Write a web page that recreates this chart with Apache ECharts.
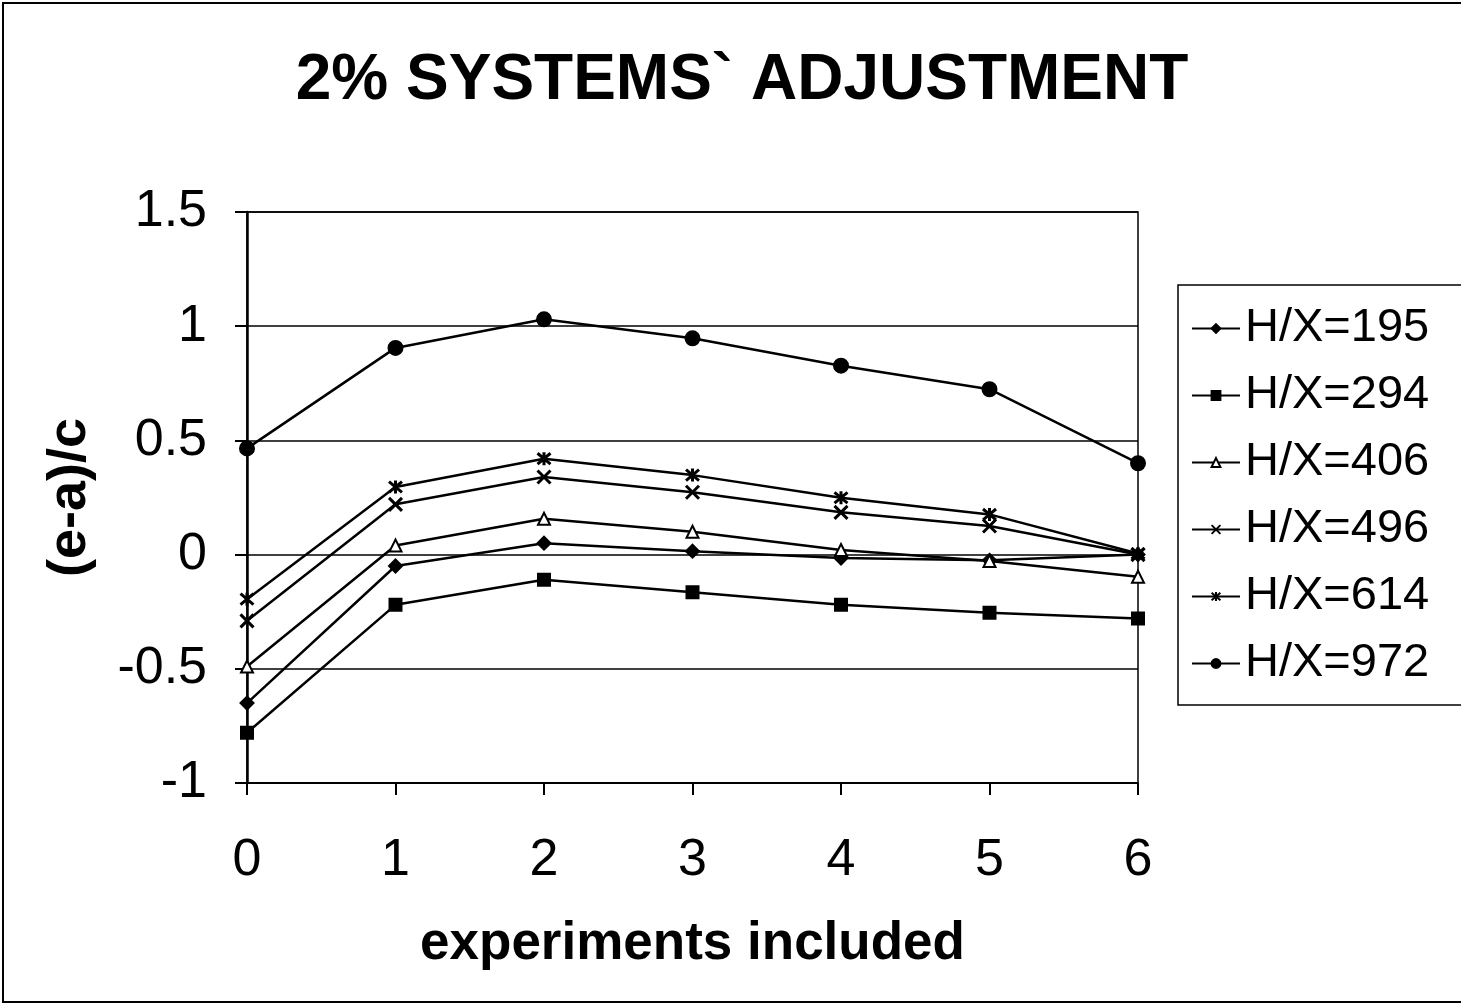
<!DOCTYPE html>
<html><head><meta charset="utf-8">
<script src="https://cdn.jsdelivr.net/npm/echarts@6/dist/echarts.min.js"></script>
<style>html,body{margin:0;padding:0;background:#fff}#c{width:1461px;height:1005px}</style>
</head><body><div id="c"></div>
<script>
const xValues = [0, 1, 2, 3, 4, 5, 6];
const seriesNames = ['H/X=195', 'H/X=294', 'H/X=406', 'H/X=496', 'H/X=614', 'H/X=972'];
const hx195 = [-0.65, -0.05, 0.05, 0.015, -0.015, -0.025, 0.0];
const hx294 = [-0.78, -0.22, -0.11, -0.165, -0.22, -0.255, -0.28];
const hx406 = [-0.49, 0.04, 0.157, 0.10, 0.02, -0.028, -0.097];
const hx496 = [-0.29, 0.22, 0.34, 0.273, 0.185, 0.125, 0.0];
const hx614 = [-0.195, 0.296, 0.42, 0.348, 0.249, 0.176, 0.005];
const hx972 = [0.465, 0.905, 1.03, 0.947, 0.827, 0.724, 0.40];
const yTicks = [-1, -0.5, 0, 0.5, 1, 1.5];

const symbols = ['diamond', 'rect', 'triangle',
  'path://M0,0L10,10M10,0L0,10',
  'path://M0,0L10,10M10,0L0,10M5,-1L5,11',
  'circle'];
const sizes = [13, 12, 12, 13, 13, 14];
const fills = ['#000', '#000', '#fff', '#000', '#000', '#000'];
const allData = [hx195, hx294, hx406, hx496, hx614, hx972];

const chart = echarts.init(document.getElementById('c'));
const font = 'Arial, "Liberation Sans", sans-serif';
chart.setOption({
  animation: false,
  backgroundColor: '#fff',
  title: {
    text: "2% SYSTEMS` ADJUSTMENT",
    left: 737, top: 44, textAlign: 'center',
    textStyle: {fontFamily: font, fontWeight: 'bold', fontSize: 64, color: '#000'}
  },
  graphic: [{type: 'rect', shape: {x: 3, y: 3, width: 1470, height: 999}, style: {fill: 'none', stroke: '#000', lineWidth: 2}, silent: true}],
  legend: {
    orient: 'vertical', left: 1178, top: 285,
    padding: [20, 60, 18, 13], itemGap: 20,
    itemWidth: 48, itemHeight: 11,
    borderColor: '#000', borderWidth: 1.5,
    data: seriesNames,
    textStyle: {fontFamily: font, fontSize: 47, lineHeight: 47, color: '#000'}
  },
  grid: {left: 247, right: 323, top: 212, bottom: 222, show: true, borderColor: '#000', borderWidth: 1.5},
  xAxis: {
    type: 'value', min: 0, max: 6, interval: 1,
    name: 'experiments included', nameLocation: 'middle', nameGap: 135,
    nameTextStyle: {fontFamily: font, fontWeight: 'bold', fontSize: 53, color: '#000'},
    axisLine: {onZero: false, lineStyle: {color: '#000', width: 2}},
    axisTick: {show: true, length: 12, lineStyle: {color: '#000', width: 2}},
    axisLabel: {fontFamily: font, fontSize: 52, color: '#000', margin: 52},
    splitLine: {show: false}
  },
  yAxis: {
    type: 'value', min: -1, max: 1.5, interval: 0.5,
    name: '(e-a)/c', nameLocation: 'middle', nameGap: 150,
    nameTextStyle: {fontFamily: font, fontWeight: 'bold', fontSize: 54, color: '#000'},
    axisLine: {show: true, lineStyle: {color: '#000', width: 2.5}},
    axisTick: {show: true, length: 12, lineStyle: {color: '#000', width: 2}},
    axisLabel: {fontFamily: font, fontSize: 52, color: '#000', margin: 40,
      formatter: v => (yTicks.indexOf(v) >= 0 ? String(v) : '')},
    splitLine: {show: true, lineStyle: {color: '#000', width: 1.5}}
  },
  series: seriesNames.map((n, i) => ({
    name: n, type: 'line',
    data: xValues.map((x, j) => [x, allData[i][j]]),
    symbol: symbols[i], symbolSize: sizes[i], showSymbol: true,
    lineStyle: {color: '#000', width: 2.5},
    itemStyle: {color: fills[i], borderColor: '#000', borderWidth: (i === 3 || i === 4) ? 3 : 2},
    emphasis: {disabled: true}
  }))
});
</script></body></html>
